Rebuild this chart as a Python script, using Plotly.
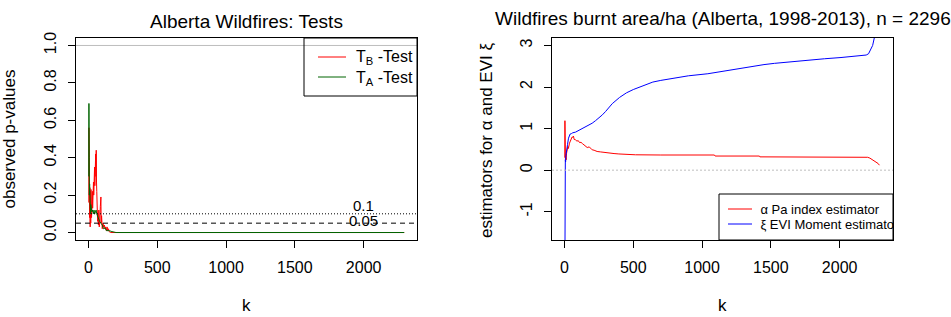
import plotly.graph_objects as go

W, H = 951, 317

# ---------------- data: left panel (p-values) ----------------
k_tb = [2, 3, 4, 6, 8, 10, 12, 14, 16, 18, 20, 22, 24, 26, 28, 30, 32, 34, 36, 38, 40,
        42, 44, 46, 48, 50, 52, 54, 56, 58, 60, 62, 64, 66, 68, 70, 72, 75, 78, 82, 86,
        90, 92, 95, 100, 105, 110, 115, 120, 125, 130, 135, 140, 145, 150, 160, 2295]
p_tb = [0.16, 0.56, 0.25, 0.40, 0.08, 0.24, 0.03, 0.22, 0.05, 0.23, 0.13, 0.08, 0.16,
        0.10, 0.22, 0.13, 0.23, 0.17, 0.27, 0.20, 0.33, 0.22, 0.35, 0.25, 0.40, 0.29,
        0.42, 0.30, 0.44, 0.27, 0.22, 0.12, 0.15, 0.06, 0.10, 0.07, 0.04, 0.12, 0.03,
        0.06, 0.14, 0.19, 0.05, 0.09, 0.02, 0.05, 0.03, 0.04, 0.02, 0.03, 0.01, 0.03,
        0.01, 0.02, 0.005, 0.0, 0.0]

k_ta = [2, 3, 4, 5, 6, 8, 10, 12, 14, 16, 20, 25, 30, 35, 40, 45, 50, 55, 60, 65, 70,
        80, 90, 100, 110, 120, 130, 150, 170, 200, 2295]
p_ta = [0.30, 0.69, 0.45, 0.53, 0.20, 0.26, 0.15, 0.24, 0.10, 0.15, 0.12, 0.11, 0.12,
        0.10, 0.12, 0.10, 0.11, 0.12, 0.10, 0.09, 0.07, 0.06, 0.05, 0.04, 0.02, 0.025,
        0.01, 0.01, 0.005, 0.0, 0.0]

# ---------------- data: right panel (estimators) ----------------
k_alpha = [2, 3, 4, 5, 7, 9, 12, 15, 18, 21, 24, 28, 32, 36, 40, 45, 50, 55, 60, 65, 70,
           80, 90, 100, 109, 120, 130, 141, 150, 165, 180, 190, 201, 215, 237, 260, 286,
           320, 360, 395, 450, 516, 700, 900, 1090, 1095, 1300, 1417, 1420, 1500, 1600,
           1610, 1800, 2000, 2204, 2220, 2241, 2260, 2280, 2289]
alpha = [0.30, 1.19, 0.22, 0.35, 0.21, 0.30, 0.25, 0.41, 0.48, 0.45, 0.57, 0.52, 0.62,
         0.65, 0.68, 0.72, 0.76, 0.80, 0.79, 0.82, 0.74, 0.73, 0.70, 0.71, 0.665, 0.67,
         0.64, 0.61, 0.60, 0.545, 0.56, 0.52, 0.49, 0.48, 0.45, 0.44, 0.425, 0.41, 0.40,
         0.39, 0.38, 0.37, 0.365, 0.365, 0.365, 0.34, 0.34, 0.34, 0.32, 0.32, 0.31,
         0.315, 0.31, 0.31, 0.31, 0.29, 0.25, 0.21, 0.16, 0.12]

k_xi = [2, 3, 4, 6, 8, 10, 13, 17, 22, 29, 35, 41, 50, 60, 80, 100, 116, 135, 153, 175,
        201, 225, 250, 275, 298, 320, 347, 400, 450, 500, 557, 642, 700, 800, 900, 1042,
        1163, 1284, 1369, 1450, 1526, 1647, 1768, 1889, 2010, 2131, 2193, 2210, 2228,
        2240, 2252, 2265]
xi = [-3.0, 0.15, -1.0, 0.25, 0.20, 0.35, 0.45, 0.49, 0.62, 0.77, 0.83, 0.87, 0.88,
      0.90, 0.915, 0.95, 0.97, 1.00, 1.04, 1.08, 1.13, 1.19, 1.25, 1.33, 1.41, 1.50,
      1.60, 1.75, 1.86, 1.94, 2.01, 2.12, 2.16, 2.21, 2.27, 2.32, 2.39, 2.46, 2.50,
      2.54, 2.57, 2.61, 2.65, 2.68, 2.71, 2.74, 2.77, 2.80, 2.90, 3.00, 3.18, 3.50]

# ---------------- ticks / labels ----------------
x_ticks = [0, 500, 1000, 1500, 2000]
x_ticktext = ["0", "500", "1000", "1500", "2000"]
yl_ticks = [0.0, 0.2, 0.4, 0.6, 0.8, 1.0]
yl_ticktext = ["0.0", "0.2", "0.4", "0.6", "0.8", "1.0"]
yr_ticks = [-1, 0, 1, 2, 3]
yr_ticktext = ["-1", "0", "1", "2", "3"]

FONT = "Liberation Sans, Arial, sans-serif"

def px(x):
    return x / W

def py(y):
    return 1 - y / H

fig = go.Figure()

fig.add_trace(go.Scatter(x=k_tb, y=p_tb, mode="lines", line=dict(color="#ff0000", width=1),
                         xaxis="x", yaxis="y", showlegend=False))
fig.add_trace(go.Scatter(x=k_ta, y=p_ta, mode="lines", line=dict(color="#006400", width=1),
                         xaxis="x", yaxis="y", showlegend=False))
fig.add_trace(go.Scatter(x=k_alpha, y=alpha, mode="lines", line=dict(color="#ff0000", width=1),
                         xaxis="x2", yaxis="y2", showlegend=False))
fig.add_trace(go.Scatter(x=k_xi, y=xi, mode="lines", line=dict(color="#0000ff", width=1),
                         xaxis="x2", yaxis="y2", showlegend=False))

# right legend text as clipped text trace (R clips legend at plot region)
fig.add_trace(go.Scatter(x=[1424, 1424], y=[-0.969, -1.330], mode="text",
                         text=["\u03b1 Pa index estimator", "\u03be EVI Moment estimator"],
                         textposition="middle right", cliponaxis=True,
                         textfont=dict(family=FONT, size=13, color="black"),
                         xaxis="x2", yaxis="y2", showlegend=False, hoverinfo="skip"))

axis_common = dict(showgrid=False, zeroline=False, showline=True, linecolor="black",
                   linewidth=1, mirror=True, ticks="outside", ticklen=7, tickcolor="black",
                   tickwidth=1, automargin=False,
                   tickfont=dict(family=FONT, size=16, color="black"))

fig.update_layout(
    template="none",
    width=W, height=H, margin=dict(l=0, r=0, t=0, b=0, pad=0),
    paper_bgcolor="white", plot_bgcolor="white", showlegend=False,
    font=dict(family=FONT, size=16, color="black"),
    xaxis=dict(domain=[px(76), px(417)], range=[-91, 2388], tickvals=x_ticks,
               ticktext=x_ticktext, anchor="y", ticklabelstandoff=6, **axis_common),
    yaxis=dict(domain=[py(240), py(38)], range=[-0.04, 1.04], tickvals=yl_ticks,
               ticktext=yl_ticktext, anchor="x", tickangle=-90, ticklabelstandoff=6,
               **axis_common),
    xaxis2=dict(domain=[px(552), px(893)], range=[-91, 2388], tickvals=x_ticks,
                ticktext=x_ticktext, anchor="y2", ticklabelstandoff=6, **axis_common),
    yaxis2=dict(domain=[py(240), py(38)], range=[-1.68, 3.18], tickvals=yr_ticks,
                ticktext=yr_ticktext, anchor="x2", tickangle=-90, ticklabelstandoff=6,
                **axis_common),
)

shapes = [
    dict(type="line", xref="x domain", yref="y", x0=0, x1=1, y0=1, y1=1,
         line=dict(color="#bebebe", width=1)),
    dict(type="line", xref="x domain", yref="y", x0=0, x1=1, y0=0.1, y1=0.1,
         line=dict(color="black", width=1, dash="1px,2px")),
    dict(type="line", xref="x domain", yref="y", x0=0, x1=1, y0=0.05, y1=0.05,
         line=dict(color="black", width=1, dash="5px,4px")),
    dict(type="line", xref="x2 domain", yref="y2", x0=0, x1=1, y0=0, y1=0,
         line=dict(color="#bebebe", width=1, dash="2px,2px")),
    # left legend
    dict(type="rect", xref="paper", yref="paper", x0=px(304), x1=px(417), y0=py(96), y1=py(38),
         line=dict(color="black", width=1)),
    dict(type="line", xref="paper", yref="paper", x0=px(318), x1=px(346), y0=py(57), y1=py(57),
         line=dict(color="#ff0000", width=1)),
    dict(type="line", xref="paper", yref="paper", x0=px(318), x1=px(346), y0=py(77), y1=py(77),
         line=dict(color="#006400", width=1)),
    # right legend
    dict(type="rect", xref="paper", yref="paper", x0=px(719), x1=px(893), y0=py(240), y1=py(194),
         line=dict(color="black", width=1)),
    dict(type="line", xref="paper", yref="paper", x0=px(728), x1=px(752), y0=py(209), y1=py(209),
         line=dict(color="#ff0000", width=1)),
    dict(type="line", xref="paper", yref="paper", x0=px(728), x1=px(752), y0=py(224), y1=py(224),
         line=dict(color="#0000ff", width=1)),
]
fig.update_layout(shapes=shapes)

def ann(text, x, y, size=16, xanchor="center", yanchor="middle", angle=0, xref="paper", yref="paper"):
    return dict(text=text, x=x, y=y, xref=xref, yref=yref, showarrow=False,
                xanchor=xanchor, yanchor=yanchor, textangle=angle,
                font=dict(family=FONT, size=size, color="black"))

annotations = [
    ann("Alberta Wildfires: Tests", px(246.5), py(21), size=19),
    ann("Wildfires burnt area/ha (Alberta, 1998-2013), n = 2296", px(722.5), py(19), size=19),
    ann("observed p-values", px(9.5), py(139), size=17, angle=-90),
    ann("estimators for \u03b1 and EVI \u03be", px(486), py(141), size=17, angle=-90),
    ann("k", px(246.5), py(305), size=17),
    ann("k", px(722.5), py(305), size=17),
    ann("T<sub>B</sub> -Test", px(354), py(58), xanchor="left"),
    ann("T<sub>A</sub> -Test", px(354), py(78), xanchor="left"),
    ann("0.1", 2000, 0.145, size=15, xref="x", yref="y"),
    ann("0.05", 2000, 0.063, size=15, xref="x", yref="y"),
]
fig.update_layout(annotations=annotations)

fig.write_html("out.html", config={"displayModeBar": False},
               post_script="document.body.style.margin='0px';document.body.style.padding='0px';document.body.style.overflow='hidden';")
